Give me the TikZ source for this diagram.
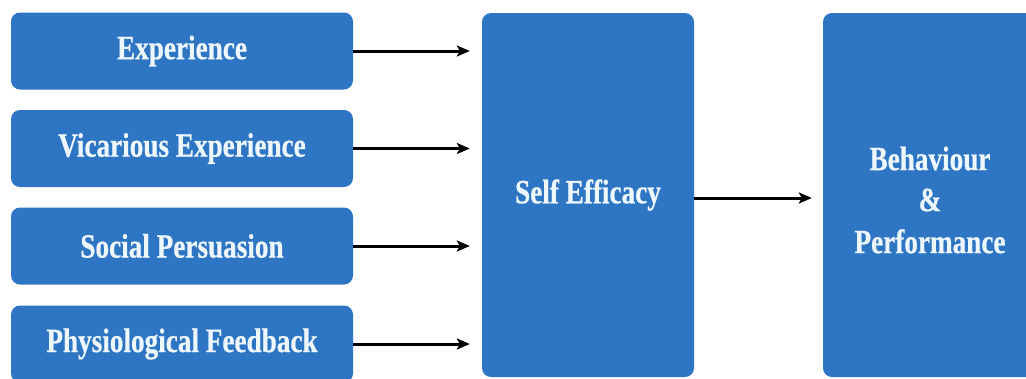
\documentclass[tikz,border=0pt]{standalone}
\usepackage{fontspec}
\setmainfont{Liberation Serif}[FakeStretch=0.8, BoldFeatures={FakeBold=0.6}]
\usetikzlibrary{arrows.meta}

\definecolor{boxblue}{RGB}{46,117,195}
\definecolor{boxtext}{RGB}{236,246,251}

\tikzset{
  block/.style={fill=boxblue, draw=none, rounded corners=9pt, inner sep=0pt,
    text=boxtext, font=\bfseries\fontsize{34}{42}\selectfont, align=center},
  leftbox/.style={block, minimum width=342pt, minimum height=77pt},
  tallbox/.style={block, minimum width=212pt, minimum height=364pt},
  label/.style={text=boxtext, inner sep=0pt, align=center,
    font=\bfseries\fontsize{34}{42}\selectfont},
  conn/.style={draw=black, line width=3pt,
    -{Stealth[length=13pt,width=11pt,inset=3pt]}},
}

\begin{document}
\begin{tikzpicture}[x=1pt,y=-1pt]
  \useasboundingbox (0,0) rectangle (1026,378);

  % the four sources of self efficacy
  \node[leftbox] (exp) at (182,51)    {Experience};
  \node[leftbox] (vic) at (182,148.5) {Vicarious Experience};
  \node[leftbox] (soc) at (182,246)   {Social Persuasion};
  \node[leftbox] (phy) at (182,344)   {Physiological Feedback};

  % central and outcome blocks
  \node[tallbox] (se)  at (588,195) {Self Efficacy};
  \node[tallbox, minimum width=214pt] (bp) at (930,195) {};
  \node[label] (bptext) at ([yshift=-5pt]bp.center) {Behaviour\\[-1pt]\&\\Performance};

  % connectors
  \foreach \n in {exp,vic,soc,phy}
    \draw[conn, shorten >=12pt] (\n.east) -- (\n.east -| se.west);
  \draw[conn, shorten >=11pt] ([yshift=-3pt]se.east) -- ([yshift=-3pt]se.east -| bp.west);
\end{tikzpicture}
\end{document}
